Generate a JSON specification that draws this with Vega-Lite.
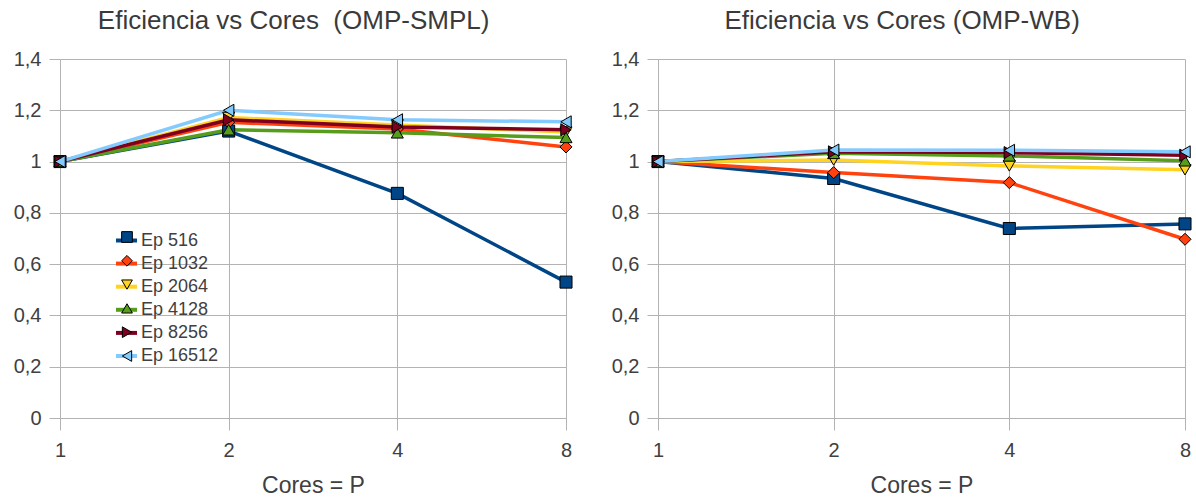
{
  "$schema": "https://vega.github.io/schema/vega-lite/v6.json",
  "background": "white",
  "padding": {"left": 13, "top": 8, "right": 4, "bottom": 2},
  "spacing": 36,
  "config": {
    "font": "Liberation Sans",
    "view": {"stroke": null},
    "title": {"fontSize": 26, "fontWeight": "normal", "color": "#3a3a3a", "offset": 15, "anchor": "middle", "frame": "bounds"},
    "axis": {
      "gridColor": "#b3b3b3",
      "tickColor": "#b3b3b3",
      "domainColor": "#b3b3b3",
      "labelColor": "#404040",
      "titleColor": "#404040",
      "labelFont": "Liberation Sans",
      "titleFont": "Liberation Sans",
      "labelFontSize": 20,
      "titleFontSize": 23,
      "titleFontWeight": "normal"
    }
  },
  "data": {
    "values": [
      {"panel": "SMPL", "P": "1", "serie": "Ep 516", "E": 1.0},
      {"panel": "SMPL", "P": "2", "serie": "Ep 516", "E": 1.119},
      {"panel": "SMPL", "P": "4", "serie": "Ep 516", "E": 0.876},
      {"panel": "SMPL", "P": "8", "serie": "Ep 516", "E": 0.53},
      {"panel": "SMPL", "P": "1", "serie": "Ep 1032", "E": 1.0},
      {"panel": "SMPL", "P": "2", "serie": "Ep 1032", "E": 1.153},
      {"panel": "SMPL", "P": "4", "serie": "Ep 1032", "E": 1.127},
      {"panel": "SMPL", "P": "8", "serie": "Ep 1032", "E": 1.057},
      {"panel": "SMPL", "P": "1", "serie": "Ep 2064", "E": 1.0},
      {"panel": "SMPL", "P": "2", "serie": "Ep 2064", "E": 1.172},
      {"panel": "SMPL", "P": "4", "serie": "Ep 2064", "E": 1.143},
      {"panel": "SMPL", "P": "8", "serie": "Ep 2064", "E": 1.115},
      {"panel": "SMPL", "P": "1", "serie": "Ep 4128", "E": 1.0},
      {"panel": "SMPL", "P": "2", "serie": "Ep 4128", "E": 1.124},
      {"panel": "SMPL", "P": "4", "serie": "Ep 4128", "E": 1.112},
      {"panel": "SMPL", "P": "8", "serie": "Ep 4128", "E": 1.094},
      {"panel": "SMPL", "P": "1", "serie": "Ep 8256", "E": 1.0},
      {"panel": "SMPL", "P": "2", "serie": "Ep 8256", "E": 1.163},
      {"panel": "SMPL", "P": "4", "serie": "Ep 8256", "E": 1.135},
      {"panel": "SMPL", "P": "8", "serie": "Ep 8256", "E": 1.124},
      {"panel": "SMPL", "P": "1", "serie": "Ep 16512", "E": 1.0},
      {"panel": "SMPL", "P": "2", "serie": "Ep 16512", "E": 1.2},
      {"panel": "SMPL", "P": "4", "serie": "Ep 16512", "E": 1.163},
      {"panel": "SMPL", "P": "8", "serie": "Ep 16512", "E": 1.155},
      {"panel": "WB", "P": "1", "serie": "Ep 516", "E": 1.0},
      {"panel": "WB", "P": "2", "serie": "Ep 516", "E": 0.934},
      {"panel": "WB", "P": "4", "serie": "Ep 516", "E": 0.739},
      {"panel": "WB", "P": "8", "serie": "Ep 516", "E": 0.757},
      {"panel": "WB", "P": "1", "serie": "Ep 1032", "E": 1.0},
      {"panel": "WB", "P": "2", "serie": "Ep 1032", "E": 0.957},
      {"panel": "WB", "P": "4", "serie": "Ep 1032", "E": 0.918},
      {"panel": "WB", "P": "8", "serie": "Ep 1032", "E": 0.697},
      {"panel": "WB", "P": "1", "serie": "Ep 2064", "E": 1.0},
      {"panel": "WB", "P": "2", "serie": "Ep 2064", "E": 1.006},
      {"panel": "WB", "P": "4", "serie": "Ep 2064", "E": 0.983},
      {"panel": "WB", "P": "8", "serie": "Ep 2064", "E": 0.968},
      {"panel": "WB", "P": "1", "serie": "Ep 4128", "E": 1.0},
      {"panel": "WB", "P": "2", "serie": "Ep 4128", "E": 1.032},
      {"panel": "WB", "P": "4", "serie": "Ep 4128", "E": 1.022},
      {"panel": "WB", "P": "8", "serie": "Ep 4128", "E": 1.003},
      {"panel": "WB", "P": "1", "serie": "Ep 8256", "E": 1.0},
      {"panel": "WB", "P": "2", "serie": "Ep 8256", "E": 1.038},
      {"panel": "WB", "P": "4", "serie": "Ep 8256", "E": 1.035},
      {"panel": "WB", "P": "8", "serie": "Ep 8256", "E": 1.025},
      {"panel": "WB", "P": "1", "serie": "Ep 16512", "E": 1.0},
      {"panel": "WB", "P": "2", "serie": "Ep 16512", "E": 1.045},
      {"panel": "WB", "P": "4", "serie": "Ep 16512", "E": 1.044},
      {"panel": "WB", "P": "8", "serie": "Ep 16512", "E": 1.038}
    ]
  },
  "resolve": {"legend": {"stroke": "independent", "fill": "independent", "shape": "independent"}},
  "hconcat": [
    {
      "title": "Eficiencia vs Cores \u00a0(OMP-SMPL)",
      "width": 506,
      "height": 359,
      "transform": [{"filter": "datum.panel === 'SMPL'"}],
      "encoding": {
        "x": {
          "field": "P", "type": "ordinal", "sort": ["1", "2", "4", "8"],
          "scale": {"type": "point", "padding": 0},
          "axis": {"title": "Cores = P", "labelAngle": 0, "grid": true, "tickSize": 12, "domain": true, "labelPadding": 10, "titlePadding": 14}
        },
        "y": {
          "field": "E", "type": "quantitative",
          "scale": {"domain": [0, 1.4], "nice": false},
          "axis": {"title": null, "values": [0, 0.2, 0.4, 0.6, 0.8, 1, 1.2, 1.4], "tickSize": 11, "domain": false, "labelPadding": 8,
                   "labelExpr": "replace(format(datum.value, '.2~f'), '.', ',')"}
        }
      },
      "layer": [
        {
          "mark": {"type": "line", "strokeWidth": 3.5},
          "encoding": {
            "stroke": {
              "field": "serie", "type": "nominal",
              "scale": {"domain": ["Ep 16512", "Ep 8256", "Ep 4128", "Ep 2064", "Ep 1032", "Ep 516"],
                        "range": ["#83caff", "#7e0021", "#579d1c", "#ffd320", "#ff420e", "#004586"]},
              "legend": {"title": null, "orient": "none", "legendX": 54, "legendY": 169, "zindex": 0,
                         "values": ["Ep 516", "Ep 1032", "Ep 2064", "Ep 4128", "Ep 8256", "Ep 16512"],
                         "symbolType": "stroke", "symbolSize": 441, "symbolStrokeWidth": 4,
                         "labelFontSize": 18, "labelColor": "#404040", "rowPadding": 1.1, "labelOffset": 2}
            }
          }
        },
        {
          "mark": {"type": "point", "filled": true, "opacity": 1, "stroke": "black", "strokeWidth": 1, "size": 145},
          "encoding": {
            "shape": {
              "field": "serie", "type": "nominal",
              "scale": {"domain": ["Ep 516", "Ep 1032", "Ep 2064", "Ep 4128", "Ep 8256", "Ep 16512"],
                        "range": ["square", "diamond", "triangle-down", "triangle-up", "triangle-right", "triangle-left"]}
            },
            "fill": {
              "field": "serie", "type": "nominal",
              "scale": {"domain": ["Ep 516", "Ep 1032", "Ep 2064", "Ep 4128", "Ep 8256", "Ep 16512"],
                        "range": ["#004586", "#ff420e", "#ffd320", "#579d1c", "#7e0021", "#83caff"]},
              "legend": {"title": null, "orient": "none", "legendX": 58, "legendY": 169, "zindex": 1,
                         "symbolSize": 115, "symbolStrokeColor": "black", "symbolStrokeWidth": 1,
                         "labelFontSize": 18, "labelExpr": "''", "rowPadding": 5.8, "labelOffset": 1}
            }
          }
        }
      ]
    },
    {
      "title": "Eficiencia vs Cores (OMP-WB)",
      "width": 527,
      "height": 359,
      "transform": [{"filter": "datum.panel === 'WB'"}],
      "encoding": {
        "x": {
          "field": "P", "type": "ordinal", "sort": ["1", "2", "4", "8"],
          "scale": {"type": "point", "padding": 0},
          "axis": {"title": "Cores = P", "labelAngle": 0, "grid": true, "tickSize": 12, "domain": true, "labelPadding": 10, "titlePadding": 14}
        },
        "y": {
          "field": "E", "type": "quantitative",
          "scale": {"domain": [0, 1.4], "nice": false},
          "axis": {"title": null, "values": [0, 0.2, 0.4, 0.6, 0.8, 1, 1.2, 1.4], "tickSize": 11, "domain": false, "labelPadding": 8,
                   "labelExpr": "replace(format(datum.value, '.2~f'), '.', ',')"}
        }
      },
      "layer": [
        {
          "mark": {"type": "line", "strokeWidth": 3.5},
          "encoding": {
            "stroke": {"field": "serie", "type": "nominal", "legend": null}
          }
        },
        {
          "mark": {"type": "point", "filled": true, "opacity": 1, "stroke": "black", "strokeWidth": 1, "size": 145},
          "encoding": {
            "shape": {"field": "serie", "type": "nominal", "legend": null},
            "fill": {"field": "serie", "type": "nominal", "legend": null}
          }
        }
      ]
    }
  ]
}
